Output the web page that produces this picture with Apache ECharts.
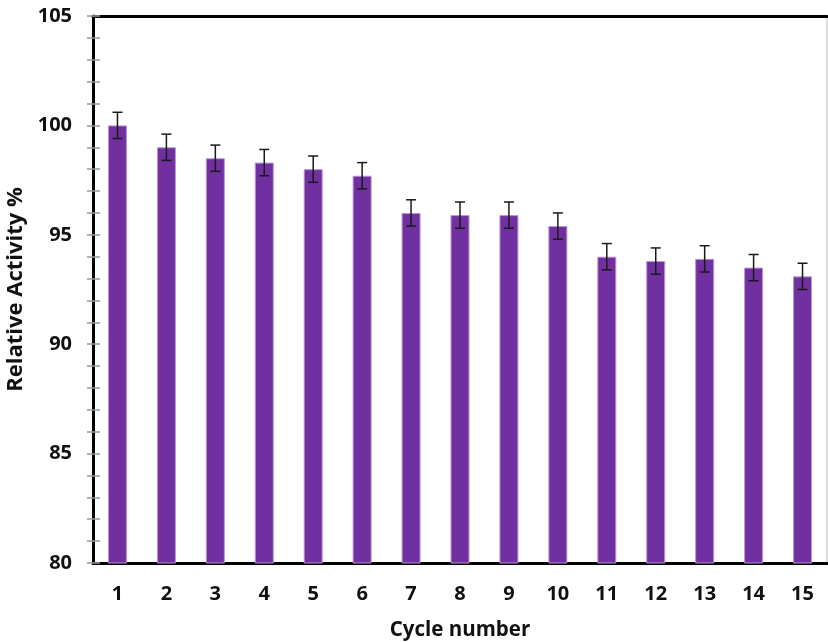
<!DOCTYPE html>
<html>
<head>
<meta charset="utf-8">
<script src="https://cdn.jsdelivr.net/npm/echarts@6/dist/echarts.min.js"></script>
<style>html,body{margin:0;padding:0;background:#fff;}#c{width:828px;height:642px;}</style>
</head>
<body>
<div id="c"></div>
<script>
const categories = ['1','2','3','4','5','6','7','8','9','10','11','12','13','14','15'];
const activity = [100.0, 99.0, 98.5, 98.3, 98.0, 97.7, 96.0, 95.9, 95.9, 95.4, 94.0, 93.8, 93.9, 93.5, 93.1];
const errors = [0.6, 0.6, 0.6, 0.6, 0.6, 0.6, 0.6, 0.6, 0.6, 0.6, 0.6, 0.6, 0.6, 0.6, 0.6];
const yTicks = [80, 85, 90, 95, 100, 105];

const FONT = '"Open Sans", "Noto Sans", sans-serif';
const chart = echarts.init(document.getElementById('c'), null, {renderer: 'canvas'});
const errData = activity.map((v, i) => [i, v - errors[i], v + errors[i]]);

chart.setOption({
  animation: false,
  backgroundColor: '#fff',
  grid: {left: 93, right: 1, top: 16, bottom: 79, show: true, borderColor: '#bdbdbd', borderWidth: 1,
         containLabel: false, outerBoundsMode: 'none'},
  xAxis: [{
    type: 'category', data: categories, position: 'bottom',
    axisLine: {lineStyle: {color: '#000', width: 3}},
    axisTick: {show: false},
    axisLabel: {color: '#111', fontSize: 20, fontWeight: 'bold', fontFamily: FONT, margin: 21},
    name: 'Cycle number', nameLocation: 'middle', nameGap: 57,
    nameTextStyle: {color: '#111', fontSize: 20.5, fontWeight: 'bold', fontFamily: FONT}
  }, {
    type: 'category', data: categories, position: 'top',
    axisLine: {lineStyle: {color: '#000', width: 3}},
    axisTick: {show: false}, axisLabel: {show: false}
  }],
  yAxis: [{
    type: 'value', min: yTicks[0], max: yTicks[yTicks.length - 1], interval: 5,
    axisLine: {show: true, lineStyle: {color: '#000', width: 3}},
    axisTick: {show: true, length: 6, lineStyle: {color: '#999', width: 1.5}},
    minorTick: {show: true, splitNumber: 5, length: 6, lineStyle: {color: '#999', width: 1.5}},
    splitLine: {show: false},
    axisLabel: {color: '#111', fontSize: 20, fontWeight: 'bold', fontFamily: FONT, margin: 21},
    name: 'Relative Activity %', nameLocation: 'middle', nameGap: 59,
    nameTextStyle: {color: '#111', fontSize: 22, fontWeight: 'bold', fontFamily: FONT}
  }, {
    type: 'value', min: yTicks[0], max: yTicks[yTicks.length - 1], interval: 5, position: 'left',
    axisLine: {show: false},
    axisTick: {show: true, inside: true, length: 7, lineStyle: {color: '#999', width: 1.5}},
    minorTick: {show: true, splitNumber: 5, length: 7, lineStyle: {color: '#999', width: 1.5}},
    splitLine: {show: false}, axisLabel: {show: false}
  }],
  series: [{
    type: 'bar', data: activity, barWidth: 19,
    itemStyle: {color: '#7030A0', borderColor: '#b995d6', borderWidth: 1}
  }, {
    type: 'custom', data: errData, z: 5,
    renderItem: function (params, api) {
      const x = api.coord([api.value(0), api.value(1)])[0];
      const lo = api.coord([api.value(0), api.value(1)])[1];
      const hi = api.coord([api.value(0), api.value(2)])[1];
      const w = 5;
      const st = {stroke: '#1a1a1a', lineWidth: 1.5};
      return {type: 'group', children: [
        {type: 'line', shape: {x1: x, y1: lo, x2: x, y2: hi}, style: st},
        {type: 'line', shape: {x1: x - w, y1: hi, x2: x + w, y2: hi}, style: st},
        {type: 'line', shape: {x1: x - w, y1: lo, x2: x + w, y2: lo}, style: st}
      ]};
    }
  }]
});
</script>
</body>
</html>
